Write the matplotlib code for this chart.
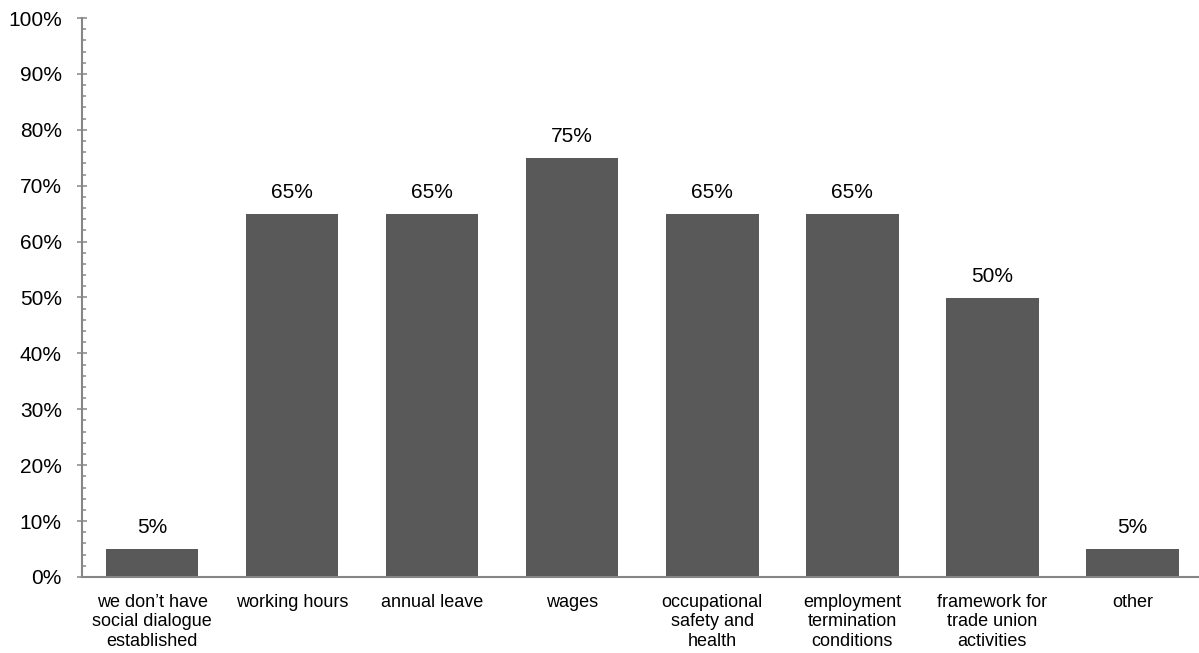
import matplotlib
matplotlib.use("Agg")
import matplotlib.pyplot as plt
from matplotlib.ticker import MultipleLocator, FuncFormatter

# topics covered by social dialogue, share of respondents
categories = [
    "we don\u2019t have\nsocial dialogue\nestablished",
    "working hours",
    "annual leave",
    "wages",
    "occupational\nsafety and\nhealth",
    "employment\ntermination\nconditions",
    "framework for\ntrade union\nactivities",
    "other",
]
shares = [0.05, 0.65, 0.65, 0.75, 0.65, 0.65, 0.50, 0.05]

bar_color = "#595959"
axis_color = "#868686"

plt.rcParams["font.family"] = ["Liberation Sans", "DejaVu Sans"]
plt.rcParams["font.size"] = 15

fig = plt.figure(figsize=(11.99, 6.53), dpi=100)
W, H = 1199, 653
ax = fig.add_axes([82 / W, (H - 577) / H, (W - 82) / W, (577 - 18) / H])

x = list(range(len(categories)))
bars = ax.bar(x, shares, width=0.66, color=bar_color, zorder=2)

# value labels above each bar
for b, v in zip(bars, shares):
    ax.annotate(f"{v:.0%}", (b.get_x() + b.get_width() / 2, v),
                xytext=(0, 8.5), textcoords="offset points",
                ha="center", va="bottom", color="black")

ax.set_xlim(-0.5, 7.475)
ax.set_ylim(0, 1)
ax.set_xticks(x)
ax.set_xticklabels(categories, fontsize=13, linespacing=1.2, va="top")

ax.yaxis.set_major_locator(MultipleLocator(0.1))
ax.yaxis.set_minor_locator(MultipleLocator(0.02))
ax.yaxis.set_major_formatter(FuncFormatter(lambda v, p: f"{v * 100:.0f}%"))

ax.tick_params(axis="y", which="major", direction="inout", length=7,
               width=1.1, color=axis_color, pad=11)
ax.tick_params(axis="y", which="minor", direction="in", length=3,
               width=1.1, color=axis_color)
ax.tick_params(axis="x", length=0, pad=12)

for side in ("top", "right"):
    ax.spines[side].set_visible(False)
for side in ("left", "bottom"):
    ax.spines[side].set_color(axis_color)
    ax.spines[side].set_linewidth(1.5)

fig.savefig("out.png", dpi=100)
